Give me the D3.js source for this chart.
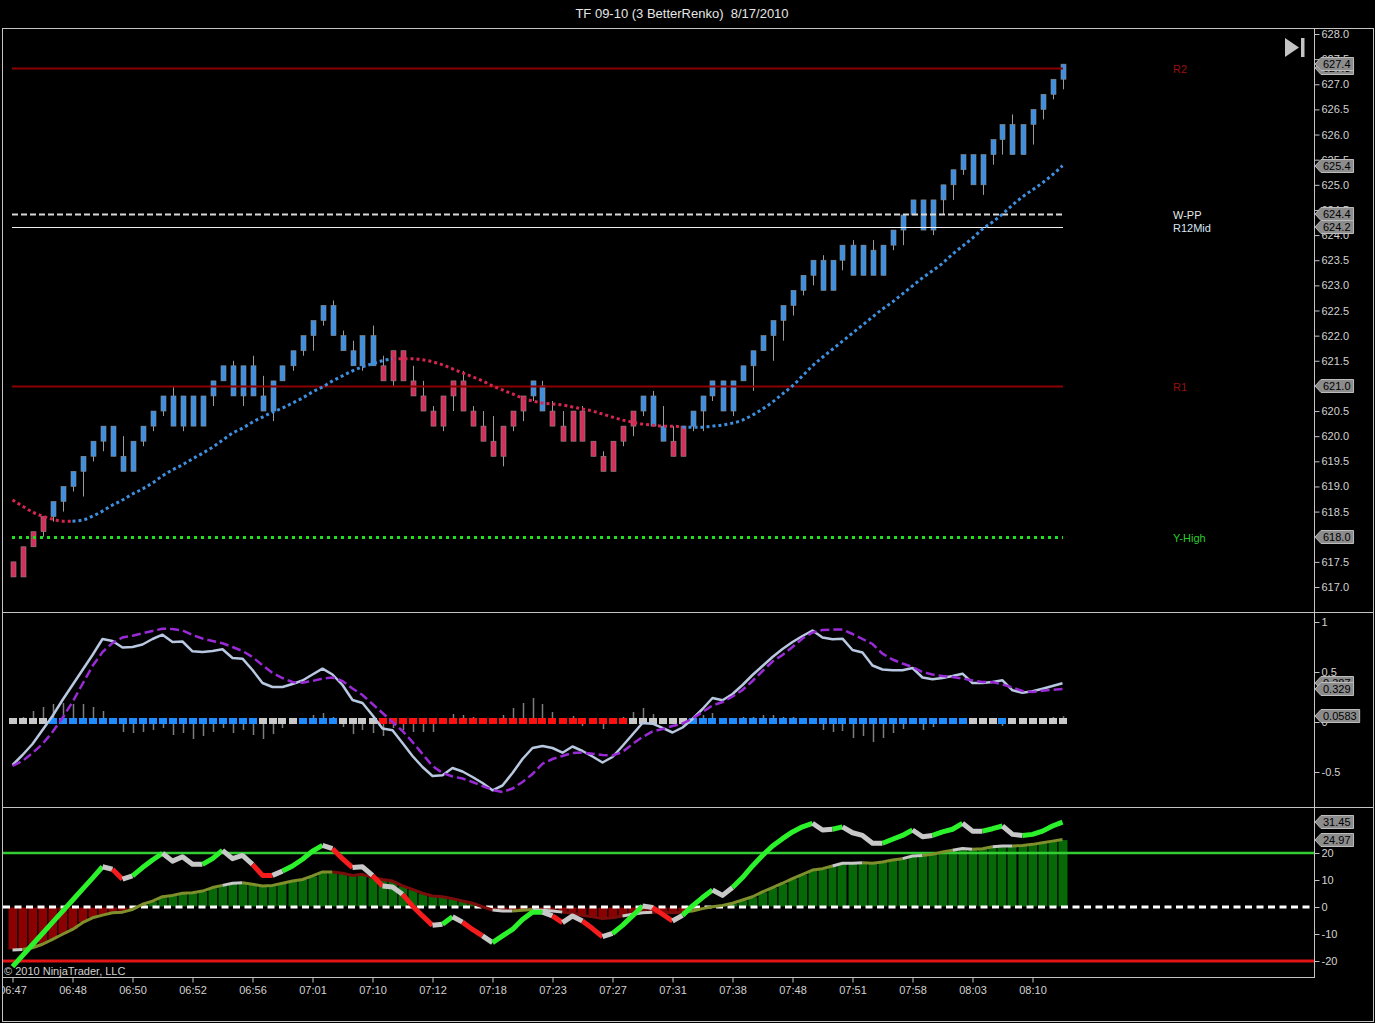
<!DOCTYPE html>
<html>
<head>
<meta charset="utf-8">
<title>TF 09-10 (3 BetterRenko) 8/17/2010</title>
<script src="https://d3js.org/d3.v7.min.js"></script>
<style>
html, body { margin: 0; padding: 0; background: #000; overflow: hidden; }
svg { display: block; }
</style>
</head>
<body>
<svg id="chart" width="1375" height="1023"></svg>
<script>
// ---- price bars (3 tick renko bricks) ----
var barOpen = [
  617.5, 617.8, 618.1, 618.4, 618.4, 618.7, 619.0, 619.3, 619.6, 619.9,
  619.6, 619.3, 619.3, 619.9, 620.2, 620.5, 620.2, 620.2, 620.2, 620.2,
  620.8, 621.1, 620.8, 620.8, 620.8, 620.5, 620.5, 621.1, 621.4, 621.7,
  622.0, 622.3, 622.0, 621.7, 621.4, 621.4, 621.4, 621.4, 621.7, 621.7,
  621.1, 620.8, 620.5, 620.8, 621.1, 621.1, 620.5, 620.2, 619.9, 620.2,
  620.5, 620.8, 620.8, 620.5, 620.5, 620.2, 620.5, 620.5, 619.9, 619.6,
  619.9, 620.2, 620.5, 620.5, 620.2, 619.9, 619.9, 620.2, 620.2, 620.5,
  620.8, 620.5, 620.5, 621.1, 621.4, 621.7, 622.0, 622.3, 622.6, 622.9,
  623.2, 622.9, 622.9, 623.5, 623.2, 623.2, 623.2, 623.2, 623.8, 624.1,
  624.4, 624.1, 624.1, 624.7, 625.0, 625.3, 625.0, 625.0, 625.6, 625.9,
  625.6, 625.6, 626.2, 626.5, 626.8, 627.1
];
var barHigh = [
  617.5, 617.8, 618.1, 618.4, 618.7, 619.0, 619.3, 619.6, 619.9, 620.2,
  620.2, 620.0, 619.9, 620.2, 620.5, 620.8, 621.0, 620.8, 620.8, 620.8,
  621.1, 621.4, 621.5, 621.4, 621.6, 621.2, 621.1, 621.4, 621.7, 622.0,
  622.3, 622.6, 622.7, 622.1, 621.9, 622.0, 622.2, 621.6, 621.7, 621.7,
  621.4, 621.1, 620.6, 620.8, 621.1, 621.3, 620.6, 620.5, 620.4, 620.2,
  620.5, 620.8, 621.1, 621.1, 620.7, 620.5, 620.5, 620.6, 619.9, 619.7,
  619.9, 620.2, 620.5, 620.8, 620.9, 620.6, 620.2, 620.2, 620.5, 620.8,
  621.1, 621.1, 621.1, 621.4, 621.7, 622.0, 622.3, 622.6, 622.9, 623.2,
  623.5, 623.6, 623.5, 623.8, 623.9, 623.8, 623.9, 623.8, 624.1, 624.4,
  624.7, 624.7, 624.7, 625.0, 625.3, 625.6, 625.6, 625.6, 625.9, 626.2,
  626.4, 626.2, 626.5, 626.8, 627.1, 627.4
];
var barLow = [
  617.2, 617.2, 617.8, 618.0, 618.3, 618.5, 618.9, 618.8, 619.5, 619.7,
  619.6, 619.3, 619.3, 619.8, 620.1, 620.4, 620.2, 620.1, 620.2, 620.2,
  620.6, 621.1, 620.8, 620.6, 620.8, 620.5, 620.3, 621.1, 621.3, 621.6,
  621.7, 622.2, 622.0, 621.7, 621.4, 621.3, 621.4, 621.1, 621.0, 621.1,
  620.8, 620.5, 620.2, 620.1, 620.5, 620.5, 620.2, 619.9, 619.6, 619.4,
  620.1, 620.3, 620.7, 620.5, 620.2, 619.9, 619.9, 619.9, 619.6, 619.3,
  619.3, 619.8, 620.0, 620.4, 620.2, 619.9, 619.6, 619.6, 620.1, 620.1,
  620.7, 620.5, 620.4, 621.1, 620.9, 621.7, 621.5, 621.9, 622.4, 622.8,
  623.0, 622.9, 622.9, 623.3, 623.2, 623.2, 623.2, 623.2, 623.7, 623.8,
  624.4, 624.1, 624.0, 624.4, 624.7, 625.2, 625.0, 624.8, 625.4, 625.6,
  625.6, 625.6, 625.8, 626.3, 626.7, 626.9
];
var barClose = [
  617.2, 617.2, 617.8, 618.1, 618.7, 619.0, 619.3, 619.6, 619.9, 620.2,
  620.2, 619.6, 619.9, 620.2, 620.5, 620.8, 620.8, 620.8, 620.8, 620.8,
  621.1, 621.4, 621.4, 621.4, 621.4, 620.8, 621.1, 621.4, 621.7, 622.0,
  622.3, 622.6, 622.6, 622.0, 621.7, 622.0, 622.0, 621.1, 621.1, 621.1,
  620.8, 620.5, 620.2, 620.2, 620.8, 620.5, 620.2, 619.9, 619.6, 619.6,
  620.2, 620.5, 621.1, 621.0, 620.2, 619.9, 619.9, 619.9, 619.6, 619.3,
  619.3, 619.9, 620.2, 620.8, 620.8, 620.2, 619.6, 619.6, 620.5, 620.8,
  621.1, 621.1, 621.1, 621.4, 621.7, 622.0, 622.3, 622.6, 622.9, 623.2,
  623.5, 623.5, 623.5, 623.8, 623.8, 623.8, 623.7, 623.8, 624.1, 624.4,
  624.7, 624.7, 624.7, 625.0, 625.3, 625.6, 625.6, 625.6, 625.9, 626.2,
  626.2, 626.2, 626.5, 626.8, 627.1, 627.4
];

// trend moving average (dotted) and its colour runs
var trendMA = [
  618.73, 618.61, 618.49, 618.41, 618.35, 618.31, 618.31, 618.33, 618.41, 618.51,
  618.63, 618.73, 618.85, 618.95, 619.07, 619.21, 619.33, 619.43, 619.55, 619.66,
  619.78, 619.92, 620.06, 620.16, 620.28, 620.38, 620.48, 620.56, 620.66, 620.76,
  620.88, 620.98, 621.10, 621.20, 621.30, 621.38, 621.44, 621.50, 621.54, 621.54,
  621.54, 621.52, 621.48, 621.42, 621.34, 621.26, 621.18, 621.10, 621.00, 620.92,
  620.84, 620.76, 620.70, 620.66, 620.64, 620.62, 620.58, 620.54, 620.50, 620.44,
  620.38, 620.32, 620.28, 620.24, 620.22, 620.20, 620.20, 620.18, 620.18, 620.18,
  620.20, 620.22, 620.26, 620.32, 620.42, 620.54, 620.68, 620.84, 621.00, 621.20,
  621.40, 621.57, 621.73, 621.89, 622.05, 622.21, 622.37, 622.53, 622.67, 622.83,
  622.99, 623.15, 623.29, 623.44, 623.62, 623.78, 623.94, 624.12, 624.26, 624.42,
  624.60, 624.76, 624.90, 625.04, 625.20, 625.38
];
var trendRuns = [["r", 7], ["b", 32], ["r", 29], ["b", 38]];

// pivot levels
var levelNames = ["R2", "W-PP", "R12Mid", "R1", "Y-High"];
var levelValues = [627.32, 624.42, 624.16, 621.0, 618.0];

var priceTicks = [617.0, 617.5, 618.0, 618.5, 619.0, 619.5, 620.0, 620.5, 621.0, 621.5, 622.0, 622.5,
  623.0, 623.5, 624.0, 624.5, 625.0, 625.5, 626.0, 626.5, 627.0, 627.5, 628.0];

// ---- oscillator panel ----
var oscFast = [
  -0.43, -0.33, -0.22, -0.08, 0.06, 0.22, 0.37, 0.52, 0.67, 0.83,
  0.81, 0.745, 0.75, 0.775, 0.83, 0.873, 0.80, 0.805, 0.707, 0.70,
  0.71, 0.727, 0.64, 0.633, 0.52, 0.39, 0.35, 0.35, 0.38, 0.415,
  0.475, 0.533, 0.475, 0.37, 0.22, 0.19, 0.067, -0.065, -0.083, -0.21,
  -0.34, -0.45, -0.54, -0.533, -0.46, -0.495, -0.55, -0.61, -0.683, -0.635,
  -0.51, -0.37, -0.26, -0.24, -0.26, -0.307, -0.245, -0.29, -0.345, -0.405,
  -0.35, -0.24, -0.125, -0.01, -0.017, -0.058, -0.105, -0.055, 0.03, 0.13,
  0.24, 0.217, 0.28, 0.37, 0.47, 0.56, 0.65, 0.73, 0.80, 0.86,
  0.915, 0.845, 0.827, 0.833, 0.72, 0.695, 0.565, 0.525, 0.517, 0.517,
  0.54, 0.445, 0.427, 0.44, 0.46, 0.483, 0.39, 0.39, 0.40, 0.417,
  0.317, 0.293, 0.307, 0.333, 0.36, 0.387
];
var oscSlow = [
  -0.44, -0.39, -0.31, -0.22, -0.10, 0.04, 0.20, 0.38, 0.56, 0.70,
  0.79, 0.845, 0.862, 0.887, 0.91, 0.933, 0.93, 0.915, 0.87, 0.835,
  0.81, 0.787, 0.75, 0.71, 0.65, 0.567, 0.49, 0.44, 0.40, 0.393,
  0.41, 0.435, 0.445, 0.41, 0.335, 0.27, 0.18, 0.09, 0.0, -0.09,
  -0.20, -0.32, -0.44, -0.51, -0.545, -0.565, -0.60, -0.64, -0.68, -0.70,
  -0.665, -0.60, -0.52, -0.417, -0.37, -0.34, -0.31, -0.305, -0.317, -0.33,
  -0.335, -0.30, -0.22, -0.15, -0.095, -0.07, -0.04, -0.015, 0.035, 0.10,
  0.165, 0.20, 0.255, 0.32, 0.41, 0.51, 0.605, 0.67, 0.75, 0.835,
  0.895, 0.92, 0.925, 0.925, 0.88, 0.83, 0.78, 0.683, 0.625, 0.585,
  0.55, 0.50, 0.475, 0.46, 0.45, 0.435, 0.415, 0.40, 0.40, 0.375,
  0.345, 0.31, 0.30, 0.312, 0.322, 0.329
];
var oscHist = [
  0, 0.05, 0.11, 0.15, 0.18, 0.19, 0.18, 0.18, 0.15, 0.11,
  0, -0.10, -0.11, -0.10, -0.08, -0.06, -0.13, -0.11, -0.17, -0.14,
  -0.10, -0.06, -0.11, -0.08, -0.13, -0.17, -0.12, -0.06, 0, 0.04,
  0.07, 0.09, 0.05, -0.05, -0.12, -0.08, -0.11, -0.14, -0.06, -0.08,
  -0.10, -0.10, -0.10, 0, 0.08, 0.07, 0.05, 0.02, 0, 0.07,
  0.14, 0.19, 0.24, 0.18, 0.10, 0, 0.06, -0.04, 0, -0.07,
  0, 0.05, 0.10, 0.14, 0.08, 0, 0, 0, 0.02, 0.07,
  0.09, 0, 0.04, 0.05, 0.05, 0.07, 0.07, 0.05, 0.05, 0,
  0, -0.08, -0.10, -0.09, -0.16, -0.14, -0.20, -0.16, -0.11, -0.07,
  0, -0.08, -0.05, 0, 0, 0, 0, 0, 0, -0.04,
  0, 0, 0, 0, 0.05, 0.0583
];
var stateRuns = [["g", 4], ["b", 21], ["g", 4], ["b", 4], ["g", 4], ["r", 25], ["g", 6], ["b", 28], ["g", 3], ["b", 1], ["g", 6]];
var oscTicks = [1, 0.5, 0, -0.5];

// ---- CCI panel ----
var cci = [
  -22.1, -18.0, -13.9, -9.8, -5.7, -1.6, 2.5, 6.6, 10.7, 14.9,
  14.0, 10.3, 11.5, 14.6, 17.4, 19.9, 17.0, 18.6, 15.8, 15.8,
  17.9, 21.0, 17.9, 19.1, 15.8, 11.7, 11.7, 13.3, 15.2, 17.7,
  20.7, 22.8, 21.6, 17.9, 14.6, 14.9, 11.7, 7.8, 7.4, 4.7,
  0.4, -3.3, -6.8, -6.4, -3.6, -5.6, -8.3, -10.7, -13.2, -10.7,
  -8.3, -4.6, -1.9, -1.9, -3.3, -5.8, -3.3, -5.2, -8.0, -11.0,
  -9.8, -6.8, -3.3, 0.4, -0.2, -2.7, -5.2, -3.1, 0.4, 3.5,
  6.3, 4.3, 7.2, 10.9, 15.2, 19.1, 22.6, 25.3, 27.8, 29.7,
  31.0, 28.5, 28.8, 29.7, 27.5, 26.5, 23.6, 23.6, 25.1, 26.5,
  28.5, 26.0, 26.5, 27.8, 28.8, 31.0, 28.1, 28.1, 29.0, 30.0,
  26.9, 26.5, 26.9, 28.1, 30.0, 31.45
];
var cciRuns = [["w", 1], ["g", 9], ["w", 1], ["r", 1], ["w", 1], ["g", 3], ["w", 4], ["g", 2], ["w", 3], ["r", 2],
  ["w", 1], ["g", 4], ["w", 1], ["r", 2], ["w", 2], ["r", 1], ["w", 2], ["r", 3], ["w", 1], ["g", 1],
  ["w", 1], ["r", 2], ["w", 1], ["g", 5], ["w", 1], ["r", 1], ["w", 2], ["r", 2], ["w", 1], ["g", 3],
  ["w", 1], ["r", 2], ["w", 1], ["g", 3], ["w", 2], ["g", 8], ["w", 2], ["g", 1], ["w", 4], ["g", 3],
  ["w", 2], ["g", 3], ["w", 2], ["g", 2], ["w", 2], ["g", 4]];
var cciAvg = [
  -15.9, -15.7, -15.1, -13.8, -12.0, -10.1, -8.3, -5.8, -4.0, -3.0,
  -2.1, -1.9, -0.9, 1.0, 2.2, 3.8, 4.3, 5.1, 5.3, 5.9,
  7.2, 8.0, 8.8, 9.0, 8.4, 7.8, 8.0, 8.8, 9.6, 10.2,
  11.5, 13.0, 13.0, 12.5, 11.7, 12.1, 10.9, 10.2, 9.6, 7.8,
  6.5, 5.1, 4.1, 3.8, 3.1, 2.2, 1.4, 0.1, -1.1, -1.5,
  -1.5, -1.2, -0.9, -1.2, -1.5, -1.9, -2.3, -3.1, -3.6, -4.3,
  -4.0, -3.3, -2.7, -2.1, -1.9, -1.9, -2.1, -1.9, -1.5, -0.6,
  0.1, 0.6, 1.4, 2.6, 3.8, 5.6, 7.2, 8.8, 10.5, 12.1,
  13.7, 14.2, 15.2, 16.2, 16.2, 16.4, 16.2, 16.7, 17.4, 17.9,
  18.9, 19.1, 19.5, 20.4, 21.0, 21.7, 21.4, 21.6, 22.3, 22.6,
  22.6, 22.8, 23.2, 23.8, 24.4, 24.97
];
var cciAvgRuns = [["w", 2], ["o", 20], ["w", 2], ["o", 9], ["d", 16], ["w", 2], ["o", 2], ["w", 3], ["d", 6], ["w", 3],
  ["d", 3], ["o", 15], ["w", 3], ["o", 4], ["w", 2], ["o", 3], ["w", 2], ["o", 2], ["w", 2], ["o", 5]];
var cciLevels = [20, 0, -20];
var cciTicks = [20, 10, 0, -10, -20];

// ---- time axis ----
var timeTickBars = [0, 6, 12, 18, 24, 30, 36, 42, 48, 54, 60, 66, 72, 78, 84, 90, 96, 102];
var timeLabels = ["06:47", "06:48", "06:50", "06:52", "06:56", "07:01", "07:10", "07:12", "07:18",
  "07:23", "07:27", "07:31", "07:38", "07:48", "07:51", "07:58", "08:03", "08:10"];

// ------------------------------------------------------------------
var FONT = "'Liberation Sans', Arial, sans-serif";
var AXIS_X = 1314;
var FRAME = "#c4c4c4";
var TEXT = "#d2d2d2";

var svg = d3.select("#chart").attr("font-family", FONT);
var n = barClose.length;

var x = d3.scaleLinear().domain([0, n - 1]).range([12.5, 1062.5]);
var yP = d3.scaleLinear().domain([617, 628]).range([587, 34]);
var yO = d3.scaleLinear().domain([-1, 1]).range([822, 622]);
var yC = d3.scaleLinear().domain([-20, 20]).range([961, 853]);

function expandRuns(runs) {
    var out = [];
    runs.forEach(function (r) { for (var k = 0; k < r[1]; k++) out.push(r[0]); });
    return out;
}

// Draw a polyline whose segments (i-1 -> i) take the colour codes[i].
function coloredPath(g, values, codes, yScale, palette, width, dash, curve) {
    var start = 1;
    while (start < values.length) {
        var end = start;
        while (end + 1 < values.length && codes[end + 1] === codes[start]) end++;
        var pts = d3.range(start - 1, end + 1);
        var p = g.append("path").datum(pts)
            .attr("d", d3.line().x(function (i) { return x(i); })
                .y(function (i) { return yScale(values[i]); })
                .curve(curve || d3.curveLinear))
            .attr("fill", "none")
            .attr("stroke", palette[codes[start]])
            .attr("stroke-width", width)
            .attr("stroke-linejoin", "round");
        if (dash) p.attr("stroke-dasharray", dash);
        start = end + 1;
    }
}

svg.append("rect").attr("width", 1375).attr("height", 1023).attr("fill", "#000");

var defs = svg.append("defs");
function clip(id, x0, y0, w, h) {
    defs.append("clipPath").attr("id", id).append("rect")
        .attr("x", x0).attr("y", y0).attr("width", w).attr("height", h);
}
clip("clipP", 3, 29, AXIS_X - 3, 583);
clip("clipO", 3, 613, AXIS_X - 3, 194);
clip("clipC", 3, 808, AXIS_X - 3, 169);
clip("clipT", 3, 977, AXIS_X - 3, 40);

// title
svg.append("text").attr("x", 682).attr("y", 13).attr("dy", "0.35em")
    .attr("text-anchor", "middle").attr("fill", "#e6e6e6").attr("font-size", 13)
    .style("white-space", "pre")
    .text("TF 09-10 (3 BetterRenko)  8/17/2010");

// ---- price panel ----
var gP = svg.append("g").attr("clip-path", "url(#clipP)");
var idx = d3.range(n);
var upCol = "#3f8fe0", dnCol = "#d42f5a";

gP.selectAll("line.wick").data(idx).join("line")
    .attr("class", "wick")
    .attr("x1", function (i) { return Math.round(x(i)) + 0.5; })
    .attr("x2", function (i) { return Math.round(x(i)) + 0.5; })
    .attr("y1", function (i) { return yP(barHigh[i]); })
    .attr("y2", function (i) { return yP(barLow[i]); })
    .attr("stroke", "#9a9a9a").attr("stroke-width", 1);

gP.selectAll("rect.body").data(idx).join("rect")
    .attr("class", "body")
    .attr("x", function (i) { return Math.round(x(i)) - 2; })
    .attr("width", 5)
    .attr("y", function (i) { return yP(Math.max(barOpen[i], barClose[i])); })
    .attr("height", function (i) { return Math.abs(yP(barOpen[i]) - yP(barClose[i])); })
    .attr("fill", function (i) { return barClose[i] >= barOpen[i] ? upCol : dnCol; })
    .attr("stroke", "#8a8a8a").attr("stroke-width", 0.6);

// pivot lines
var levelStyle = {
    "R2": { stroke: "#8b0000", width: 2, dash: null, text: "#9a1010" },
    "W-PP": { stroke: "#d8d8d8", width: 2, dash: "6,3", text: "#e8e8e8" },
    "R12Mid": { stroke: "#f0f0f0", width: 1, dash: null, text: "#d8e6f4" },
    "R1": { stroke: "#8b0000", width: 2, dash: null, text: "#9a1010" },
    "Y-High": { stroke: "#1ee01e", width: 3, dash: "3,4", text: "#2ccc2c" }
};
levelNames.forEach(function (name, k) {
    var st = levelStyle[name];
    var yy = Math.round(yP(levelValues[k])) + 0.5;
    var ln = gP.append("line").attr("x1", x(0) - 0.5).attr("x2", x(n - 1) + 0.5)
        .attr("y1", yy).attr("y2", yy)
        .attr("stroke", st.stroke).attr("stroke-width", st.width);
    if (st.dash) ln.attr("stroke-dasharray", st.dash);
    svg.append("text").attr("x", 1173).attr("y", yy + 1).attr("dy", "0.35em")
        .attr("font-size", 11).attr("fill", st.text).text(name);
});

// trend MA dotted
coloredPath(gP, trendMA, expandRuns(trendRuns), yP, { r: "#d42650", b: "#3f8fe0" }, 3, "3,3", d3.curveMonotoneX);

// play icon
svg.append("path").attr("d", "M1285,38 L1285,57 L1299,47.5 Z").attr("fill", "#c4c4c4");
svg.append("rect").attr("x", 1301).attr("y", 38).attr("width", 3.5).attr("height", 19).attr("fill", "#c4c4c4");

// ---- oscillator panel ----
var gO = svg.append("g").attr("clip-path", "url(#clipO)");
gO.selectAll("line.hist").data(idx.filter(function (i) { return oscHist[i] !== 0; })).join("line")
    .attr("class", "hist")
    .attr("x1", function (i) { return Math.round(x(i)) + 0.5; })
    .attr("x2", function (i) { return Math.round(x(i)) + 0.5; })
    .attr("y1", yO(0))
    .attr("y2", function (i) { return yO(oscHist[i]); })
    .attr("stroke", "#7c7c7c").attr("stroke-width", 1.5);

var stateCodes = expandRuns(stateRuns);
var stateCol = { g: "#c8c8c8", b: "#1e8cff", r: "#ff1010" };
gO.selectAll("rect.state").data(idx).join("rect")
    .attr("class", "state")
    .attr("x", function (i) { return Math.round(x(i)) - 4; })
    .attr("y", yO(0) - 4)
    .attr("width", 8).attr("height", 6)
    .attr("fill", function (i) { return stateCol[stateCodes[i]]; });

var lineGen = function (arr, yScale) {
    return d3.line().x(function (d, i) { return x(i); }).y(function (d) { return yScale(d); })(arr);
};
gO.append("path").attr("d", lineGen(oscFast, yO))
    .attr("fill", "none").attr("stroke", "#b8c8e0").attr("stroke-width", 2.5).attr("stroke-linejoin", "round");
gO.append("path").attr("d", lineGen(oscSlow, yO))
    .attr("fill", "none").attr("stroke", "#9a2ad6").attr("stroke-width", 2.5)
    .attr("stroke-dasharray", "9,4");

// ---- CCI panel ----
var gC = svg.append("g").attr("clip-path", "url(#clipC)");
gC.selectAll("rect.cbar").data(idx).join("rect")
    .attr("class", "cbar")
    .attr("x", function (i) { return Math.round(x(i)) - 5; })
    .attr("width", 10)
    .attr("y", function (i) { return yC(Math.max(cciAvg[i], 0)); })
    .attr("height", function (i) { return Math.abs(yC(cciAvg[i]) - yC(0)); })
    .attr("fill", function (i) { return cciAvg[i] >= 0 ? "#076807" : "#8b0000"; })
    .attr("stroke", "#000").attr("stroke-width", 1);

var cciLevelStyle = { "20": ["#33cc33", 2.5, null], "0": ["#ffffff", 3, "7,4.5"], "-20": ["#e01414", 3, null] };
cciLevels.forEach(function (v) {
    var st = cciLevelStyle[String(v)];
    var ln = gC.append("line").attr("x1", 3).attr("x2", AXIS_X)
        .attr("y1", yC(v)).attr("y2", yC(v))
        .attr("stroke", st[0]).attr("stroke-width", st[1]);
    if (st[2]) ln.attr("stroke-dasharray", st[2]);
});

coloredPath(gC, cciAvg, expandRuns(cciAvgRuns), yC, { o: "#7e8f2c", w: "#c8c8c8", d: "#7a0c0c" }, 3);
coloredPath(gC, cci, expandRuns(cciRuns), yC, { g: "#2cf22c", r: "#f41c1c", w: "#c8c8c8" }, 5);

svg.append("text").attr("x", 4).attr("y", 971).attr("dy", "0.35em")
    .attr("font-size", 11).attr("fill", TEXT).text("\u00a9 2010 NinjaTrader, LLC");

// ---- frame ----
function hline(y, x1, x2) {
    svg.append("line").attr("x1", x1).attr("x2", x2).attr("y1", y + 0.5).attr("y2", y + 0.5)
        .attr("stroke", FRAME).attr("stroke-width", 1);
}
function vline(xx, y1, y2) {
    svg.append("line").attr("x1", xx + 0.5).attr("x2", xx + 0.5).attr("y1", y1).attr("y2", y2)
        .attr("stroke", FRAME).attr("stroke-width", 1);
}
hline(28, 2, 1374);
hline(612, 2, 1374);
hline(807, 2, 1374);
hline(977, 2, AXIS_X);
hline(1021, 2, 1374);
vline(2, 28, 1022);
vline(1373, 28, 1022);
vline(AXIS_X, 28, 978);

// ---- axes ----
function styleAxis(g) {
    g.attr("font-family", FONT).attr("font-size", 11);
    g.select(".domain").remove();
    g.selectAll(".tick line").attr("stroke", FRAME);
    g.selectAll(".tick text").attr("fill", TEXT);
}
svg.append("g").attr("transform", "translate(" + (AXIS_X + 0.5) + ",0)")
    .call(d3.axisRight(yP).tickValues(priceTicks).tickFormat(d3.format(".1f")).tickSize(5).tickPadding(2))
    .call(styleAxis);
svg.append("g").attr("transform", "translate(" + (AXIS_X + 0.5) + ",0)")
    .call(d3.axisRight(yO).tickValues(oscTicks).tickFormat(function (d) { return String(d); }).tickSize(5).tickPadding(2))
    .call(styleAxis);
svg.append("g").attr("transform", "translate(" + (AXIS_X + 0.5) + ",0)")
    .call(d3.axisRight(yC).tickValues(cciTicks).tickFormat(function (d) { return String(d); }).tickSize(5).tickPadding(2))
    .call(styleAxis);
svg.append("g").attr("clip-path", "url(#clipT)")
    .append("g").attr("transform", "translate(0,977.5)")
    .call(d3.axisBottom(x).tickValues(timeTickBars)
        .tickFormat(function (d, i) { return timeLabels[i]; }).tickSize(5).tickPadding(4))
    .call(styleAxis);

// ---- value tags on the axis ----
function tag(yv, label) {
    var g = svg.append("g").attr("transform", "translate(" + (AXIS_X + 1) + "," + Math.round(yv) + ")");
    var t = g.append("text").attr("x", 8).attr("dy", "0.36em")
        .attr("font-size", 11).attr("fill", "#000").text(label);
    var w = t.node().getComputedTextLength() + 11;
    g.insert("path", "text")
        .attr("d", "M0,0 L6,-6.5 L" + w + ",-6.5 L" + w + ",6.5 L6,6.5 Z")
        .attr("fill", "#8c8c8c").attr("stroke", "#bcbcbc").attr("stroke-width", 1);
}
var f1 = d3.format(".1f"), f3 = d3.format(".3r"), f2 = d3.format(".2f");
tag(yP(levelValues[0]), f1(levelValues[0]));
tag(yP(barClose[n - 1]), f1(barClose[n - 1]));
tag(yP(trendMA[n - 1]), f1(trendMA[n - 1]));
tag(yP(levelValues[1]), f1(levelValues[1]));
tag(yP(levelValues[2]), f1(levelValues[2]));
tag(yP(levelValues[3]), f1(levelValues[3]));
tag(yP(levelValues[4]), f1(levelValues[4]));
tag(yO(oscFast[n - 1]), f3(oscFast[n - 1]));
tag(yO(oscSlow[n - 1]), f3(oscSlow[n - 1]));
tag(yO(oscHist[n - 1]), f3(oscHist[n - 1]));
tag(yC(cci[n - 1]), f2(cci[n - 1]));
tag(yC(cciAvg[n - 1]), f2(cciAvg[n - 1]));
</script>
</body>
</html>
